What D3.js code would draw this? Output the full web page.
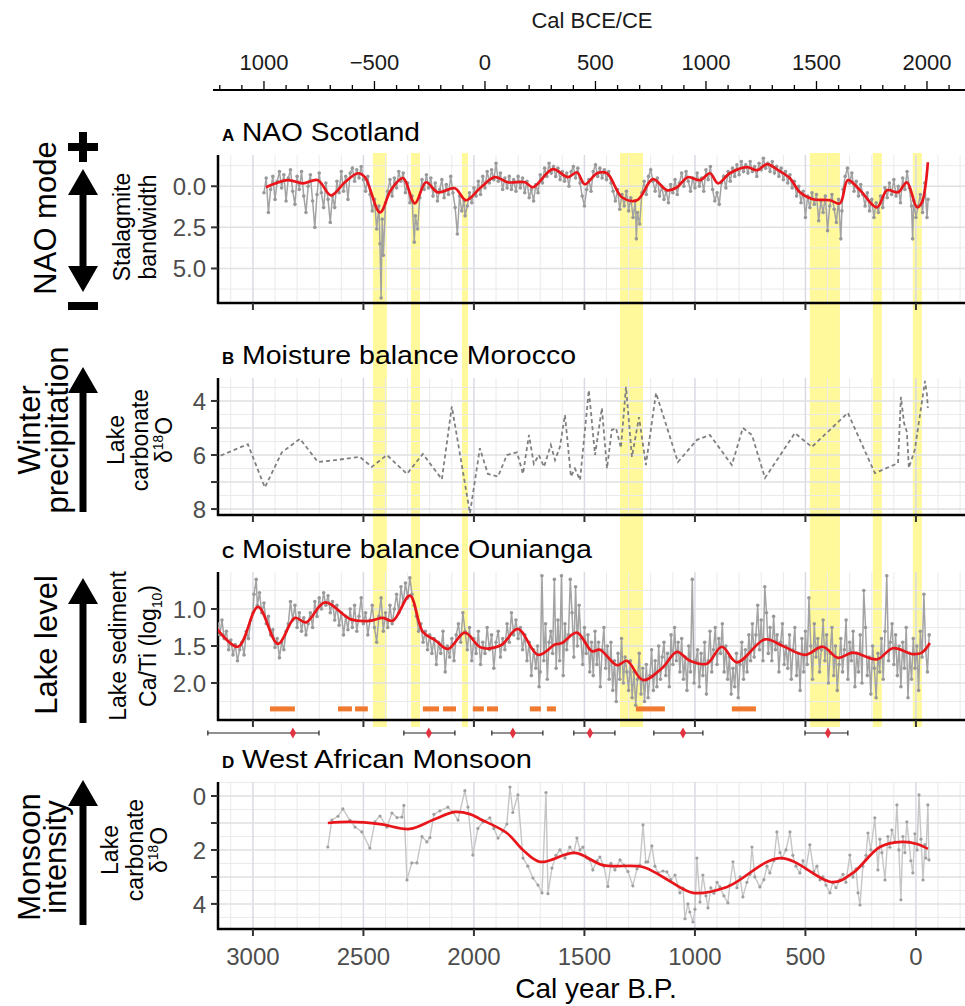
<!DOCTYPE html>
<html>
<head>
<meta charset="utf-8">
<script src="https://cdn.jsdelivr.net/npm/d3@7"></script>
<style>
  body { margin: 0; background: #fff; }
  svg { display: block; font-family: "Liberation Sans", Arial, sans-serif; }
</style>
</head>
<body>
<svg id="chart" width="965" height="1006"></svg>
<script>
// ---- data (years are cal yr B.P.) ----
const bottomTicks = [3000, 2500, 2000, 1500, 1000, 500, 0];
const ceTicks = [-1000, -500, 0, 500, 1000, 1500, 2000];
const ceTickLabels = ['1000', '\u2212500', '0', '500', '1000', '1500', '2000'];

// shaded intervals [start, end]
const yellowBands = [[2457, 2394], [2285, 2244], [2054, 2027], [1339, 1235], [480, 344], [195, 154], [14, -27]];

// A: stalagmite band width (grey) and smooth (red)
const naoRaw = [[2950,0.4],[2940,-0.5],[2930,1.6],[2920,0.2],[2910,-0.6],[2900,0.8],[2890,-0.3],[2880,-0.9],[2870,0.1],[2860,-0.7],[2850,0.9],[2840,-0.5],[2830,-1.0],[2820,0.3],[2810,1.1],[2800,-0.6],[2790,0.2],[2780,-0.9],[2770,0.6],[2760,1.6],[2750,0.0],[2740,-0.7],[2730,0.9],[2720,2.5],[2710,0.5],[2700,-0.8],[2690,0.4],[2680,1.3],[2670,-0.2],[2660,0.8],[2650,2.2],[2640,0.6],[2630,1.3],[2620,-0.3],[2610,0.4],[2600,-0.9],[2590,0.3],[2580,-0.6],[2570,0.8],[2560,-0.8],[2550,-1.1],[2540,-0.3],[2530,-1.0],[2520,-0.5],[2510,-1.2],[2500,-0.4],[2490,0.3],[2480,-0.6],[2470,0.5],[2460,1.5],[2450,0.8],[2440,2.6],[2430,1.2],[2425,3.5],[2420,6.8],[2415,2.0],[2410,4.2],[2400,1.0],[2390,0.3],[2380,-0.4],[2370,0.6],[2360,-0.5],[2350,0.1],[2340,-0.9],[2330,-0.3],[2320,-0.8],[2310,0.4],[2300,-0.2],[2290,1.0],[2280,0.6],[2270,3.4],[2265,1.8],[2255,2.6],[2245,0.7],[2235,-0.4],[2225,0.2],[2215,-0.7],[2205,0.1],[2195,-0.5],[2185,0.6],[2175,-0.2],[2165,0.9],[2155,0.2],[2145,-0.4],[2135,0.7],[2125,-0.1],[2115,0.5],[2105,-0.6],[2095,0.4],[2085,1.3],[2075,2.9],[2065,0.6],[2055,1.5],[2045,0.9],[2040,1.8],[2030,1.2],[2020,0.4],[2010,1.0],[2000,0.1],[1990,0.6],[1980,-0.3],[1970,0.5],[1960,-0.6],[1950,0.1],[1940,-0.9],[1930,-0.2],[1920,-1.0],[1910,-0.4],[1900,-1.4],[1890,-0.3],[1880,-0.8],[1870,0.2],[1860,-0.5],[1850,0.1],[1840,-0.6],[1830,0.2],[1820,-0.4],[1810,0.3],[1800,-0.6],[1790,0.1],[1780,-0.5],[1770,0.4],[1760,-0.3],[1750,0.7],[1740,0.2],[1730,0.9],[1720,-0.1],[1710,0.4],[1700,-0.7],[1690,-0.2],[1680,-1.1],[1670,-0.6],[1660,-1.4],[1650,-0.8],[1640,-1.2],[1630,-0.6],[1620,-1.1],[1610,-0.4],[1600,-0.9],[1590,-0.3],[1580,-0.8],[1570,0.0],[1560,-0.9],[1550,-1.2],[1540,-0.5],[1530,-1.1],[1520,-0.2],[1510,0.6],[1500,1.2],[1490,0.2],[1480,-0.4],[1470,0.3],[1460,-0.9],[1450,-1.3],[1440,-0.6],[1430,-1.1],[1420,-0.5],[1410,-1.0],[1400,-0.4],[1390,-0.9],[1380,-0.2],[1370,0.3],[1360,0.9],[1350,0.2],[1340,1.4],[1330,0.5],[1320,1.2],[1310,0.3],[1300,1.5],[1290,0.7],[1280,1.9],[1270,0.9],[1265,3.2],[1260,1.6],[1250,2.3],[1240,0.4],[1230,-0.3],[1220,0.5],[1210,-0.6],[1200,-1.0],[1190,-0.3],[1180,0.3],[1170,-0.5],[1160,0.6],[1150,0.0],[1140,0.8],[1130,0.3],[1120,1.0],[1110,-0.1],[1100,0.4],[1090,-0.4],[1080,0.5],[1070,-0.2],[1060,-0.8],[1050,0.0],[1040,-0.9],[1030,-0.3],[1020,0.3],[1010,-0.5],[1000,0.1],[990,-0.8],[980,0.0],[970,-0.5],[960,0.3],[950,-1.0],[940,-0.4],[930,-1.2],[920,0.2],[910,0.9],[900,0.4],[890,1.1],[880,-0.2],[870,-0.6],[860,0.1],[850,-0.9],[840,-0.3],[830,-1.1],[820,-0.6],[810,-1.3],[800,-0.7],[790,-1.5],[780,-0.9],[770,-1.3],[760,-0.8],[750,-1.5],[740,-0.9],[730,-1.2],[720,-0.6],[710,-1.4],[700,-1.0],[690,-1.7],[680,-1.1],[670,-1.4],[660,-0.9],[650,-1.5],[640,-0.8],[630,-1.2],[620,-0.6],[610,-1.1],[600,-0.4],[590,-0.9],[580,-0.2],[570,-0.7],[560,0.1],[550,-0.3],[540,0.6],[530,0.0],[520,1.0],[510,0.3],[500,1.9],[490,0.6],[480,1.3],[470,0.4],[460,1.1],[450,0.5],[440,2.1],[430,0.9],[420,1.6],[410,0.6],[400,2.7],[390,1.2],[380,0.5],[370,1.4],[360,2.2],[350,0.8],[340,3.2],[335,1.5],[330,0.2],[320,-0.6],[310,-1.1],[300,-0.2],[290,-0.8],[280,0.3],[270,-0.3],[260,0.6],[250,-0.1],[240,0.5],[230,1.2],[220,0.4],[210,1.5],[200,0.8],[190,1.9],[180,1.0],[170,1.6],[160,0.6],[150,1.3],[140,0.1],[130,0.7],[120,-0.2],[110,0.5],[100,-0.4],[90,0.6],[80,0.0],[70,1.0],[60,-0.5],[50,0.2],[40,-0.9],[30,0.1],[20,1.2],[15,3.2],[10,0.9],[0,1.9],[-10,1.2],[-20,0.5],[-30,1.6],[-40,-0.2],[-50,1.9],[-55,0.8]];
const naoSmooth = [[2941,0.06],[2842,-0.37],[2774,-0.18],[2706,-0.37],[2647,0.55],[2584,-0.24],[2525,-0.79],[2493,-0.55],[2425,1.59],[2376,0.24],[2321,-0.49],[2267,1.04],[2217,-0.24],[2163,0.37],[2086,0.12],[2036,0.85],[1968,0.06],[1905,-0.55],[1846,-0.24],[1769,-0.24],[1733,0.06],[1643,-1.04],[1575,-0.55],[1534,-0.85],[1498,-0.12],[1443,-0.79],[1398,-0.79],[1330,0.67],[1262,0.85],[1190,-0.43],[1127,0.24],[1081,0.06],[1032,-0.55],[977,-0.37],[932,-0.79],[896,-0.18],[842,-0.79],[765,-1.16],[719,-0.98],[674,-1.34],[624,-0.98],[570,-0.49],[525,0.37],[466,0.79],[389,0.85],[344,1.04],[308,-0.37],[253,0.24],[176,1.28],[131,0.24],[81,0.37],[41,-0.24],[-5,1.28],[-27,0.98],[-54,-1.46]];

// B: Morocco lake carbonate d18O
const moroccoD18O = [[3175,6.12],[3023,5.6],[2946,7.2],[2869,5.9],[2787,5.4],[2706,6.26],[2638,6.2],[2516,6.07],[2462,6.44],[2394,6.0],[2303,6.7],[2231,5.96],[2145,6.9],[2100,4.2],[2018,8.15],[1973,5.75],[1937,6.7],[1891,6.8],[1851,6.0],[1805,5.9],[1778,6.7],[1751,5.26],[1729,6.33],[1706,6.0],[1683,6.44],[1652,5.63],[1633,6.19],[1611,5.7],[1588,4.52],[1561,6.8],[1543,6.5],[1520,6.93],[1480,3.6],[1452,6.0],[1421,4.26],[1398,6.5],[1376,5.07],[1357,5.0],[1335,5.74],[1312,3.48],[1285,6.07],[1253,4.6],[1222,6.37],[1176,3.7],[1077,6.26],[991,5.44],[932,5.26],[833,6.37],[783,5.0],[742,5.26],[683,6.85],[548,5.19],[471,5.7],[308,4.44],[186,6.67],[81,6.3],[68,3.85],[54,4.81],[41,5.15],[32,6.48],[5,5.8],[-41,3.26],[-50,3.78],[-54,4.26]];

// C: Ounianga Ca/Ti (log10)
const caTiRaw = [[3175,1.25],[3160,1.20],[3150,1.35],[3140,1.15],[3130,1.40],[3120,1.30],[3110,1.55],[3100,1.42],[3090,1.62],[3080,1.48],[3070,1.70],[3060,1.55],[3050,1.45],[3040,1.62],[3030,1.30],[3020,1.40],[3010,1.15],[3000,1.05],[2995,0.80],[2985,0.60],[2980,0.95],[2970,0.78],[2960,1.05],[2950,0.92],[2940,1.20],[2930,1.10],[2920,1.35],[2910,1.28],[2900,1.52],[2890,1.40],[2880,1.66],[2870,1.45],[2860,1.55],[2850,1.30],[2840,1.20],[2830,0.90],[2820,1.15],[2810,0.95],[2800,1.25],[2790,1.05],[2780,1.30],[2770,1.12],[2760,1.35],[2750,1.20],[2740,1.05],[2730,1.25],[2720,0.90],[2710,1.10],[2700,0.85],[2690,1.00],[2680,0.78],[2670,0.95],[2660,0.82],[2650,1.05],[2640,0.90],[2630,1.15],[2620,0.95],[2610,1.22],[2600,1.05],[2590,1.35],[2580,1.10],[2570,1.28],[2560,1.00],[2550,1.25],[2540,0.95],[2530,1.30],[2520,1.10],[2510,0.85],[2500,1.20],[2490,1.05],[2480,1.35],[2470,1.15],[2460,0.95],[2450,1.25],[2440,1.45],[2430,1.10],[2420,0.85],[2410,1.30],[2400,1.05],[2390,1.25],[2380,0.95],[2370,1.20],[2360,1.00],[2350,0.80],[2340,1.05],[2330,0.70],[2320,0.92],[2310,0.65],[2300,0.85],[2290,0.58],[2280,0.80],[2270,0.95],[2260,1.10],[2250,1.30],[2240,1.20],[2230,1.45],[2220,1.30],[2210,1.55],[2200,1.35],[2190,1.60],[2180,1.40],[2170,1.75],[2160,1.45],[2150,1.60],[2140,1.30],[2130,1.85],[2120,1.50],[2110,1.65],[2100,1.40],[2090,1.70],[2080,1.35],[2070,1.20],[2060,1.45],[2050,1.05],[2040,1.30],[2030,1.55],[2020,1.25],[2010,1.70],[2000,1.40],[1990,1.60],[1980,1.30],[1970,1.75],[1960,1.45],[1950,1.60],[1940,1.25],[1930,1.55],[1920,1.35],[1910,1.80],[1900,1.45],[1890,1.30],[1880,1.65],[1870,1.40],[1860,1.55],[1850,1.20],[1840,1.45],[1830,1.05],[1820,1.35],[1810,1.15],[1800,1.40],[1790,1.25],[1780,1.55],[1770,1.35],[1760,1.70],[1750,1.45],[1740,1.90],[1730,1.55],[1720,1.80],[1712,1.50],[1705,2.05],
  [1700,1.85],[1692,0.55],[1684,1.70],[1676,1.20],[1668,1.95],[1660,1.45],[1652,1.30],[1644,1.60],[1636,0.60],[1628,1.80],
  [1620,1.15],[1612,1.70],[1604,0.55],[1596,1.90],[1588,1.20],[1580,1.55],[1572,1.35],[1564,0.60],[1556,1.05],[1548,1.65],
  [1540,0.70],[1532,1.50],[1524,0.95],[1516,1.40],[1508,1.75],[1500,1.25],[1492,1.60],[1484,1.35],[1476,1.85],[1468,1.45],
  [1460,1.90],[1452,1.30],[1444,1.75],[1436,1.45],[1428,2.05],[1420,1.55],[1412,1.25],[1404,1.80],[1396,1.50],[1388,1.95],
  [1380,1.45],[1372,2.10],[1364,1.70],[1356,2.25],[1348,1.60],[1340,1.95],[1332,1.40],[1324,2.00],[1316,1.65],[1308,1.85],
  [1300,2.10],[1292,1.70],[1284,2.20],[1276,1.85],[1268,2.30],[1260,1.95],[1252,1.60],[1244,2.15],[1236,1.80],[1228,2.25],
  [1220,1.75],[1212,2.20],[1204,1.90],[1196,1.55],[1188,2.10],[1180,1.70],[1172,2.05],[1164,1.50],[1156,1.95],[1148,1.65],
  [1140,1.45],[1132,1.90],[1124,1.60],[1116,2.05],[1108,1.35],[1100,1.75],[1092,1.25],[1084,1.70],[1076,1.45],[1068,1.85],
  [1060,1.40],[1052,1.95],[1044,1.65],[1036,2.10],[1028,1.50],[1020,1.85],[1012,0.60],[1004,2.00],[996,1.70],[988,1.55],
  [980,2.05],[972,1.60],[964,1.90],[956,1.45],[948,2.15],[940,1.70],[932,1.30],[924,1.85],[916,1.55],[908,1.25],
  [900,1.75],[892,1.40],[884,1.60],[876,1.20],[868,1.85],[860,1.50],[852,1.95],[844,1.65],[836,2.15],[828,1.80],
  [820,2.05],[812,1.60],[804,2.20],[796,1.75],[788,1.45],[780,1.95],[772,1.55],[764,1.85],[756,1.35],[748,1.70],
  [740,1.20],[732,1.65],[724,1.35],[716,0.95],[708,1.55],[700,1.15],[692,1.70],[684,0.70],[676,1.05],[668,1.60],
  [660,1.25],[652,1.70],[644,1.10],[636,1.55],[628,1.35],[620,1.85],[612,1.45],[604,1.20],[596,1.75],[588,1.50],
  [580,1.80],[572,1.35],[564,1.95],[556,1.55],[548,1.25],[540,1.90],[532,1.60],[524,2.10],[516,1.40],[508,1.85],
  [500,1.30],[492,1.75],[484,0.85],[476,1.50],[468,1.95],[460,1.20],[452,1.65],[444,1.40],[436,1.85],[428,1.55],
  [420,1.15],[412,1.70],[404,1.35],[396,2.00],[388,1.60],[380,1.25],[372,1.90],[364,1.50],[356,2.10],[348,1.75],
  [340,1.40],[332,1.85],[324,1.55],[316,1.15],[308,1.95],[300,1.45],[292,1.70],[284,1.30],[276,2.05],[268,1.60],
  [260,1.85],[252,1.35],[244,2.00],[236,0.75],[228,1.25],[220,1.90],[212,1.65],[204,2.15],[196,1.50],[188,1.80],
  [180,2.20],[172,1.60],[164,1.85],[156,1.40],[148,1.95],[140,1.30],[132,0.55],[124,1.70],[116,1.45],[108,1.20],
  [100,1.75],[92,1.35],[84,1.90],[76,1.50],[68,2.05],[60,1.45],[52,1.80],[44,1.25],[36,2.20],[28,1.60],
  [20,1.95],[12,1.40],[4,1.80],[-4,1.50],[-12,2.10],[-20,1.30],[-28,1.65],[-36,0.80],[-44,1.55],[-52,1.85],[-60,1.35]];
const caTiSmooth = [[3175,1.22],[3068,1.51],[2977,0.97],[2887,1.47],[2810,1.12],[2760,1.18],[2674,0.91],[2557,1.14],[2471,1.16],[2412,1.12],[2367,1.16],[2290,0.82],[2231,1.31],[2176,1.42],[2118,1.54],[2041,1.32],[1968,1.52],[1878,1.49],[1801,1.27],[1710,1.62],[1633,1.48],[1602,1.46],[1534,1.32],[1466,1.57],[1430,1.55],[1353,1.76],[1308,1.70],[1235,1.96],[1149,1.80],[1081,1.58],[1023,1.70],[946,1.74],[878,1.51],[810,1.72],[683,1.41],[602,1.50],[502,1.62],[421,1.51],[353,1.66],[285,1.59],[176,1.68],[104,1.53],[14,1.61],[-27,1.59],[-63,1.46]];
// orange intervals (C)
const orangeBars = [[2923,2810],[2615,2552],[2538,2480],[2231,2158],[2140,2081],[2005,1955],[1941,1891],[1747,1697],[1670,1629],[1267,1136],[833,724]];
// age control: [older, median, younger]
const ageControl = [[3204,2819,2701],[2317,2204,2086],[1919,1824,1688],[1548,1475,1362],[1186,1054,964],[502,398,308]];

// D: West African monsoon lake carbonate d18O
const wamRaw = [[2661,1.89],[2643,0.89],[2615,0.75],[2593,0.48],[2561,0.90],[2538,1.15],[2507,1.33],[2471,1.93],[2448,0.96],[2425,0.74],[2394,1.15],[2371,0.63],[2348,0.80],[2326,0.78],[2317,0.35],[2303,3.11],[2281,2.48],[2258,2.48],[2235,1.50],[2213,1.70],[2199,1.54],[2181,0.68],[2154,0.55],[2118,0.41],[2095,0.60],[2072,0.89],[2041,-0.20],[2027,0.41],[2005,2.19],[1982,1.20],[1959,0.96],[1928,0.81],[1910,1.20],[1891,1.56],[1869,1.30],[1851,1.04],[1837,-0.33],[1824,0.61],[1801,-0.04],[1778,2.30],[1756,2.60],[1733,3.04],[1710,3.30],[1692,3.59],[1674,-0.13],[1665,3.62],[1647,2.67],[1629,2.20],[1611,2.00],[1588,2.30],[1566,1.89],[1548,2.10],[1534,1.56],[1520,2.00],[1507,1.89],[1489,2.30],[1475,2.37],[1462,2.74],[1443,2.40],[1430,2.26],[1412,2.60],[1394,3.35],[1380,2.50],[1362,2.74],[1339,2.37],[1321,2.56],[1303,2.80],[1281,3.33],[1262,2.70],[1249,2.56],[1235,1.07],[1222,2.45],[1213,2.44],[1195,1.85],[1181,2.60],[1167,2.85],[1145,2.78],[1127,2.81],[1109,3.10],[1090,2.93],[1068,3.59],[1054,3.41],[1045,4.55],[1032,4.00],[1023,4.30],[1009,4.67],[1000,4.20],[991,2.30],[977,3.93],[964,2.93],[950,3.70],[941,4.15],[928,3.40],[914,3.60],[900,3.20],[887,3.37],[869,3.70],[851,3.96],[842,3.30],[828,2.44],[810,3.40],[796,3.00],[783,3.74],[765,3.20],[751,2.90],[742,1.89],[729,3.00],[706,3.37],[688,3.10],[674,2.60],[661,2.85],[643,2.40],[629,1.33],[615,2.10],[606,2.30],[588,2.00],[570,1.33],[557,2.20],[543,2.60],[525,2.85],[511,2.40],[498,2.70],[480,1.81],[462,2.80],[448,2.60],[434,3.11],[421,3.00],[407,3.30],[389,3.59],[376,3.20],[362,3.40],[344,3.11],[330,2.90],[317,3.20],[299,2.19],[285,3.00],[271,2.70],[262,3.59],[253,4.04],[240,2.60],[226,2.20],[217,1.37],[204,2.00],[186,0.81],[172,2.74],[163,1.60],[154,2.10],[140,3.11],[127,1.50],[118,1.90],[109,1.26],[95,1.70],[86,0.33],[77,2.00],[68,3.85],[59,1.50],[50,2.10],[41,0.96],[32,1.70],[23,2.40],[14,2.85],[5,1.40],[-5,2.00],[-14,-0.04],[-23,1.60],[-32,3.11],[-41,1.80],[-45,2.30],[-54,0.33],[-59,2.37]];
const wamSmooth = [[2661,1.0],[2561,0.96],[2425,1.04],[2290,1.22],[2186,0.89],[2086,0.59],[2018,0.67],[1973,0.85],[1851,1.37],[1778,2.0],[1701,2.44],[1543,2.11],[1416,2.56],[1235,2.63],[1145,3.0],[1009,3.59],[855,3.37],[615,2.30],[376,3.19],[285,2.85],[163,1.89],[63,1.70],[-5,1.78],[-54,1.96]];

// ---- layout ----
const X0 = 218, X1 = 965;
const x = d3.scaleLinear().domain([3158, -222]).range([X0, X1]);
const ce = d3.scaleLinear().domain([1950 - 3158, 1950 + 222]).range([X0, X1]);
const svg = d3.select('#chart');
const GREY_TXT = '#4d4d4d';

const panels = [
  {key: 'A', title: 'NAO Scotland', top: 155, bottom: 303, domain: [-1.9, 7.1], titleLen: 178,
   ticks: [0, 2.5, 5], labelled: [0, 2.5, 5], fmt: d3.format('.1f'), minor: [-1.25, 1.25, 3.75, 6.25]},
  {key: 'B', title: 'Moisture balance Morocco', top: 378, bottom: 515, domain: [3.15, 8.22], titleLen: 334,
   ticks: [4, 5, 6, 7, 8], labelled: [4, 6, 8], fmt: d3.format('d'), minor: [3.5, 4.5, 5.5, 6.5, 7.5]},
  {key: 'C', title: 'Moisture balance Ounianga', top: 572, bottom: 720, domain: [0.5, 2.5], titleLen: 350,
   ticks: [1, 1.5, 2], labelled: [1, 1.5, 2], fmt: d3.format('.1f'), minor: [0.75, 1.25, 1.75, 2.25]},
  {key: 'D', title: 'West African Monsoon', top: 782, bottom: 929, domain: [-0.52, 4.93], titleLen: 290,
   ticks: [0, 1, 2, 3, 4], labelled: [0, 2, 4], fmt: d3.format('d'), minor: [-0.5, 0.5, 1.5, 2.5, 3.5, 4.5]}
];

const minorYears = d3.range(3100, -300, -100).filter(d => d % 500 !== 0);

// yellow shading first (behind everything)
svg.append('g').selectAll('rect').data(yellowBands).join('rect')
  .attr('x', d => x(d[0])).attr('width', d => x(d[1]) - x(d[0]))
  .attr('y', 153).attr('height', 727 - 153)
  .attr('fill', '#fff99c');

// ---- top CE axis ----
const ceAxis = svg.append('g');
ceAxis.append('line').attr('x1', 213).attr('x2', X1).attr('y1', 90).attr('y2', 90)
  .attr('stroke', '#000').attr('stroke-width', 2.2);
ceAxis.selectAll('.mn').data(d3.range(-1200, 2200, 100)).join('line')
  .attr('x1', d => ce(d)).attr('x2', d => ce(d))
  .attr('y1', d => ceTicks.includes(d) ? 81 : 85).attr('y2', 90)
  .attr('stroke', '#000').attr('stroke-width', 1.3);
ceAxis.selectAll('text.t').data(ceTicks).join('text')
  .attr('x', d => ce(d)).attr('y', 70)
  .attr('text-anchor', 'middle').attr('font-size', 22).attr('fill', '#1a1a1a')
  .text((d, i) => ceTickLabels[i]);
ceAxis.append('text').attr('x', 592).attr('y', 28).attr('text-anchor', 'middle')
  .attr('font-size', 22).attr('fill', '#1a1a1a').text('Cal BCE/CE');

// ---- panels ----
const red = '#e8161b';
panels.forEach(p => {
  const y = d3.scaleLinear().domain(p.domain).range([p.top, p.bottom]);
  p.y = y;
  const g = svg.append('g');
  const clipId = 'clip' + p.key;
  svg.append('clipPath').attr('id', clipId).append('rect')
    .attr('x', X0).attr('y', p.top).attr('width', X1 - X0).attr('height', p.bottom - p.top);

  // grid
  g.selectAll('.vmin').data(minorYears).join('line')
    .attr('x1', d => x(d)).attr('x2', d => x(d)).attr('y1', p.top).attr('y2', p.bottom)
    .attr('stroke', '#eaeaea').attr('stroke-width', 1);
  g.selectAll('.hmin').data(p.minor.filter(v => v > p.domain[0] && v < p.domain[1])).join('line')
    .attr('x1', X0).attr('x2', X1).attr('y1', d => y(d)).attr('y2', d => y(d))
    .attr('stroke', '#eaeaea').attr('stroke-width', 1);
  g.selectAll('.vmaj').data(bottomTicks).join('line')
    .attr('x1', d => x(d)).attr('x2', d => x(d)).attr('y1', p.top).attr('y2', p.bottom)
    .attr('stroke', '#dadae4').attr('stroke-width', 1.5);
  g.selectAll('.hmaj').data(p.ticks).join('line')
    .attr('x1', X0).attr('x2', X1).attr('y1', d => y(d)).attr('y2', d => y(d))
    .attr('stroke', '#e0e0e0').attr('stroke-width', 1.5);

  // axes
  g.append('line').attr('x1', X0).attr('x2', X0).attr('y1', p.top).attr('y2', p.bottom + 1)
    .attr('stroke', '#000').attr('stroke-width', 2.5);
  g.append('line').attr('x1', X0 - 1).attr('x2', X1).attr('y1', p.bottom).attr('y2', p.bottom)
    .attr('stroke', '#000').attr('stroke-width', 2.5);
  g.selectAll('.xt').data(bottomTicks).join('line')
    .attr('x1', d => x(d)).attr('x2', d => x(d)).attr('y1', p.bottom).attr('y2', p.bottom + 7)
    .attr('stroke', '#333').attr('stroke-width', 2);
  g.selectAll('.yt').data(p.ticks).join('line')
    .attr('x1', X0 - 7).attr('x2', X0).attr('y1', d => y(d)).attr('y2', d => y(d))
    .attr('stroke', '#333').attr('stroke-width', 2);
  g.selectAll('.yl').data(p.labelled).join('text')
    .attr('x', X0 - 12).attr('y', d => y(d)).attr('dy', '0.36em')
    .attr('text-anchor', 'end').attr('font-size', 24).attr('fill', GREY_TXT)
    .text(d => p.fmt(d));

  // title
  const t = svg.append('text').attr('x', 222).attr('y', p.top - 14).attr('fill', '#000');
  t.append('tspan').attr('font-size', 17).attr('font-weight', 'bold').text(p.key);
  t.append('tspan').attr('x', 242).attr('font-size', 26)
    .attr('textLength', p.titleLen).attr('lengthAdjust', 'spacingAndGlyphs').text(p.title);
  p.clip = 'url(#' + clipId + ')';
});

const [pA, pB, pC, pD] = panels;
const lineFor = (y, curve) => d3.line().x(d => x(d[0])).y(d => y(d[1])).curve(curve || d3.curveLinear);

function greySeries(p, data, lineColor, dotColor, width, r) {
  const g = svg.append('g').attr('clip-path', p.clip);
  g.append('path').datum(data).attr('d', lineFor(p.y))
    .attr('fill', 'none').attr('stroke', lineColor).attr('stroke-width', width);
  g.selectAll('circle').data(data).join('circle')
    .attr('cx', d => x(d[0])).attr('cy', d => p.y(d[1])).attr('r', r)
    .attr('fill', dotColor);
}
function redSeries(p, data) {
  svg.append('path').attr('clip-path', p.clip).datum(data)
    .attr('d', lineFor(p.y, d3.curveCatmullRom.alpha(0.5)))
    .attr('fill', 'none').attr('stroke', red).attr('stroke-width', 2.7);
}

greySeries(pA, naoRaw, '#a3a3a3', '#999', 1.5, 1.8);
redSeries(pA, naoSmooth);

svg.append('path').attr('clip-path', pB.clip).datum(moroccoD18O).attr('d', lineFor(pB.y))
  .attr('fill', 'none').attr('stroke', '#808080').attr('stroke-width', 1.8)
  .attr('stroke-dasharray', '4,3');

greySeries(pC, caTiRaw, '#a3a3a3', '#999', 1.5, 1.8);
redSeries(pC, caTiSmooth);
svg.append('g').selectAll('rect').data(orangeBars).join('rect')
  .attr('x', d => x(d[0])).attr('width', d => x(d[1]) - x(d[0]))
  .attr('y', pC.y(2.35) - 2.5).attr('height', 5).attr('fill', '#f07a2f');

// age control points below panel C
const ac = svg.append('g');
const acY = 733;
ac.selectAll('line.r').data(ageControl).join('line')
  .attr('x1', d => x(d[0])).attr('x2', d => x(d[2])).attr('y1', acY).attr('y2', acY)
  .attr('stroke', '#222').attr('stroke-width', 1.2);
ac.selectAll('line.l').data(ageControl.flatMap(d => [d[0], d[2]])).join('line')
  .attr('x1', d => x(d)).attr('x2', d => x(d)).attr('y1', acY - 2.5).attr('y2', acY + 2.5)
  .attr('stroke', '#222').attr('stroke-width', 1.2);
ac.selectAll('path').data(ageControl).join('path')
  .attr('d', d3.symbol(d3.symbolDiamond, 34))
  .attr('transform', d => `translate(${x(d[1])},${acY})`)
  .attr('fill', '#e23340');

greySeries(pD, wamRaw, '#c6c6c6', '#a0a0a0', 1.4, 1.6);
redSeries(pD, wamSmooth);

// bottom axis labels
svg.selectAll('text.bx').data(bottomTicks).join('text')
  .attr('x', d => x(d)).attr('y', 965).attr('text-anchor', 'middle')
  .attr('font-size', 24).attr('fill', GREY_TXT).text(d => d);
svg.append('text').attr('x', 596).attr('y', 998).attr('text-anchor', 'middle')
  .attr('font-size', 28).attr('fill', '#000').text('Cal year B.P.');

// ---- left labels ----
function rotLabel(cy, lines, size) {
  const g = svg.append('g');
  lines.forEach(ln => {
    const t = g.append('text')
      .attr('transform', `translate(${ln.x},${cy}) rotate(-90)`)
      .attr('text-anchor', 'middle').attr('dy', '0.35em')
      .attr('font-size', size).attr('fill', '#000');
    ln.parts.forEach(pt => {
      const s = t.append('tspan').text(pt.t);
      if (pt.sup) s.attr('font-size', size * 0.6).attr('dy', -size * 0.4);
      if (pt.sub) s.attr('font-size', size * 0.6).attr('dy', size * 0.25);
      if (pt.back) s.attr('dy', pt.back);
    });
  });
}
const SUB = 23;
const plain = s => [{t: s}];
const d18O = [{t: '\u03B4'}, {t: '18', sup: true}, {t: 'O', back: SUB * 0.4}];

rotLabel(218, [{x: 45, parts: plain('NAO mode')}], 31);
rotLabel(227, [{x: 122, parts: plain('Stalagmite')}, {x: 148, parts: plain('bandwidth')}], SUB);

rotLabel(430, [{x: 29, parts: plain('Winter')}, {x: 57, parts: plain('precipitation')}], 31);
rotLabel(440, [{x: 116, parts: plain('Lake')}, {x: 140, parts: plain('carbonate')}, {x: 164, parts: d18O}], SUB);

rotLabel(645, [{x: 46, parts: plain('Lake level')}], 31);
rotLabel(646, [{x: 118, parts: plain('Lake sediment')},
  {x: 148, parts: [{t: 'Ca/Ti (log'}, {t: '10', sub: true}, {t: ')', back: -SUB * 0.25}]}], SUB);

rotLabel(857, [{x: 29, parts: plain('Monsoon')}, {x: 55, parts: plain('intensity')}], 31);
rotLabel(850, [{x: 110, parts: plain('Lake')}, {x: 135, parts: plain('carbonate')}, {x: 159, parts: d18O}], SUB);

// arrows
function arrow(x0, tip, tail, both) {
  const hw = 15, hl = 26, sw = 3.5;
  let d = `M${x0},${tip} L${x0 + hw},${tip + hl} L${x0 + sw},${tip + hl} `;
  if (both) {
    d += `L${x0 + sw},${tail - hl} L${x0 + hw},${tail - hl} L${x0},${tail} L${x0 - hw},${tail - hl} L${x0 - sw},${tail - hl} `;
  } else {
    d += `L${x0 + sw},${tail} L${x0 - sw},${tail} `;
  }
  d += `L${x0 - sw},${tip + hl} L${x0 - hw},${tip + hl} Z`;
  svg.append('path').attr('d', d).attr('fill', '#000');
}
arrow(83, 169, 292, true);
arrow(83, 367, 512, false);
arrow(83, 578, 723, false);
arrow(83, 780, 925, false);
// plus and minus for NAO
svg.append('rect').attr('x', 68).attr('y', 143).attr('width', 30).attr('height', 8).attr('fill', '#000');
svg.append('rect').attr('x', 79).attr('y', 132).attr('width', 8).attr('height', 30).attr('fill', '#000');
svg.append('rect').attr('x', 68).attr('y', 302).attr('width', 30).attr('height', 8).attr('fill', '#000');
</script>
</body>
</html>
